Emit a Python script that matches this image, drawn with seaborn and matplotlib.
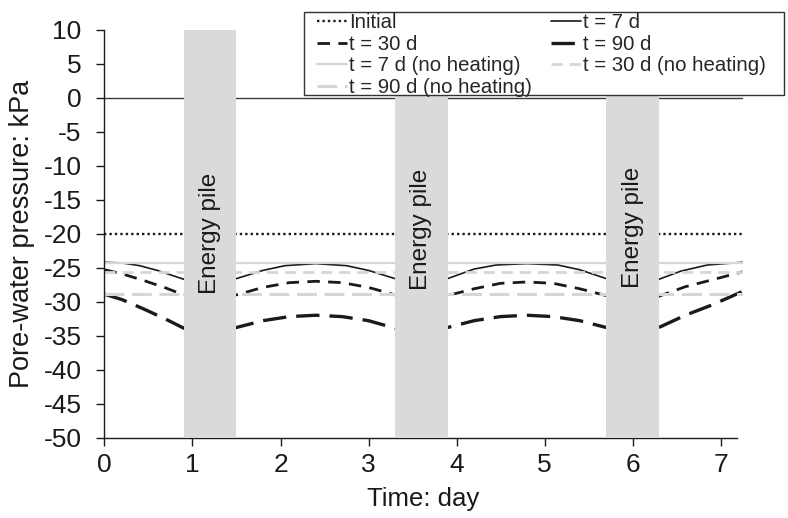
import matplotlib
matplotlib.use("Agg")
import matplotlib.pyplot as plt
from matplotlib.patches import Rectangle
import seaborn as sns

# Time axis (days) and pore-water pressure (kPa) for each case
initial_day = [0.0, 7.25]
initial_kpa = [-20.0, -20.0]

day_7 = [0.0, 0.2, 0.4, 0.6, 0.9, 1.5, 1.8, 2.05, 2.4, 2.75, 3.0, 3.3,
         3.9, 4.2, 4.45, 4.8, 5.15, 5.4, 5.7, 6.3, 6.55, 6.85, 7.25]
kpa_7 = [-24.2, -24.3, -24.7, -25.4, -26.7, -26.6, -25.4, -24.7, -24.4, -24.7, -25.4, -26.6,
         -26.6, -25.2, -24.6, -24.4, -24.6, -25.3, -26.6, -26.7, -25.5, -24.6, -24.2]

day_30 = [0.0, 0.2, 0.45, 0.7, 0.9, 1.5, 1.8, 2.1, 2.4, 2.7, 3.0, 3.3,
          3.9, 4.2, 4.5, 4.8, 5.1, 5.4, 5.7, 6.3, 6.6, 6.9, 7.25]
kpa_30 = [-25.3, -25.9, -26.9, -28.0, -29.0, -29.0, -27.9, -27.2, -27.0, -27.2, -27.9, -29.0,
          -29.1, -28.1, -27.3, -27.1, -27.3, -28.1, -29.1, -29.2, -27.8, -26.8, -25.6]

day_90 = [0.0, 0.2, 0.45, 0.7, 0.9, 1.5, 1.8, 2.1, 2.4, 2.7, 3.0, 3.3,
          3.9, 4.2, 4.5, 4.8, 5.1, 5.4, 5.7, 6.3, 6.6, 6.9, 7.25]
kpa_90 = [-28.9, -29.7, -31.1, -32.6, -33.9, -33.8, -32.8, -32.2, -32.0, -32.2, -32.8, -33.9,
          -33.8, -32.8, -32.2, -32.0, -32.2, -32.8, -33.8, -33.8, -32.0, -30.5, -28.5]

nh_day = [0.0, 7.25]
nh_kpa_7 = [-24.3, -24.3]
nh_kpa_30 = [-25.6, -25.6]
nh_kpa_90 = [-28.8, -28.8]

# Heating periods of the energy pile (days)
pile_start = [0.9, 3.3, 5.7]
pile_end = [1.5, 3.9, 6.3]
pile_label_kpa = [-19.9, -19.4, -19.0]

x_ticks = [0, 1, 2, 3, 4, 5, 6, 7]
y_ticks = list(range(-50, 11, 5))

sns.set_theme(style="ticks")
plt.rcParams["font.family"] = ["Liberation Sans", "DejaVu Sans"]
plt.rcParams["axes.unicode_minus"] = False

W, H = 788, 518
fig = plt.figure(figsize=(W / 100, H / 100), dpi=100)
ax = fig.add_axes([0.1326, 0.1554, 0.9423 - 0.1326, 0.9421 - 0.1554])

black = "#1a1a1a"
grey = "#d6d6d6"

series = [
    ("Initial", initial_day, initial_kpa, black, 1.7, (0, (1.0, 1.3))),
    ("t = 7 d", day_7, kpa_7, black, 1.2, "-"),
    ("t = 30 d", day_30, kpa_30, black, 2.0, (0, (4.5, 3.0))),
    ("t = 90 d", day_90, kpa_90, black, 2.4, (0, (7.0, 3.0))),
    ("t = 7 d (no heating)", nh_day, nh_kpa_7, grey, 1.6, "-"),
    ("t = 30 d (no heating)", nh_day, nh_kpa_30, grey, 2.0, (0, (4.0, 2.5))),
    ("t = 90 d (no heating)", nh_day, nh_kpa_90, grey, 2.2, (0, (6.5, 2.5))),
]

ax.axhline(0, color="#3a3a3a", lw=1.0, zorder=1)

for name, xs, ys, col, lw, ls in series:
    sns.lineplot(x=xs, y=ys, ax=ax, color=col, linewidth=lw, linestyle=ls,
                 label=name, errorbar=None, zorder=2)

for x0, x1, yk in zip(pile_start, pile_end, pile_label_kpa):
    ax.axvspan(x0, x1, color="#dadadc", lw=0, zorder=3)
    ax.text((x0 + x1) / 2, yk, "Energy pile", rotation=90, ha="center",
            va="center", fontsize=17.5, color=black, zorder=4)

ax.set_xlim(0, 7.25)
ax.set_ylim(-50, 10)
ax.set_xticks(x_ticks)
ax.set_yticks(y_ticks)
ax.tick_params(axis="both", direction="out", length=5.5, width=1, color=black,
               labelsize=19, labelcolor=black)
ax.tick_params(axis="y", pad=11)
ax.tick_params(axis="x", pad=6)
ax.set_xlabel("Time: day", fontsize=18.5, color=black, labelpad=7)
ax.set_ylabel("Pore-water pressure: kPa", fontsize=19.5, color=black, labelpad=6)
sns.despine(ax=ax)
ax.spines["bottom"].set_bounds(0, 7.19)
for s in ("left", "bottom"):
    ax.spines[s].set_color(black)
    ax.spines[s].set_linewidth(1.0)

handles, labels = ax.get_legend_handles_labels()
ax.get_legend().remove()
lookup = dict(zip(labels, handles))
order = ["Initial", "t = 30 d", "t = 7 d (no heating)", "t = 90 d (no heating)",
         "t = 7 d", "t = 90 d", "t = 30 d (no heating)"]

# Legend frame (pixel box) drawn behind a frameless figure legend
box_l, box_t, box_r, box_b = 304, 12, 784, 95
fig.patches.append(Rectangle((box_l / W, 1 - box_b / H), (box_r - box_l) / W,
                             (box_b - box_t) / H, transform=fig.transFigure,
                             facecolor="white", edgecolor="#333333", lw=1.0,
                             zorder=4))
leg = fig.legend([lookup[k] for k in order], order, ncol=2, loc="upper left",
                 bbox_to_anchor=(317 / W, 1 - 13.5 / H), frameon=False,
                 fontsize=14.7, borderaxespad=0, borderpad=0,
                 labelspacing=0.12, handlelength=1.45, handletextpad=0.1,
                 columnspacing=0.95)
leg.set_zorder(5)

fig.savefig("out.png", dpi=100)
